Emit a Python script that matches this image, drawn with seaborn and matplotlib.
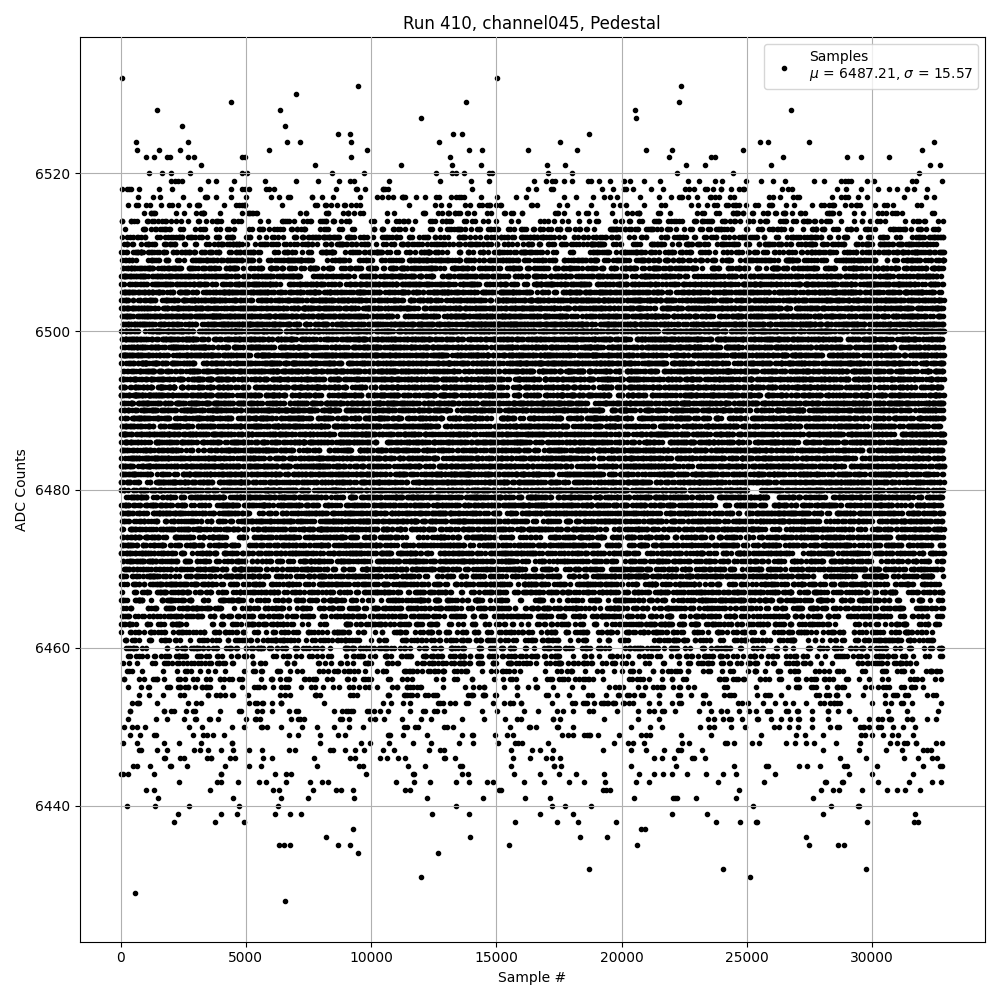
import numpy as np
import matplotlib
matplotlib.use('Agg')
import matplotlib.pyplot as plt
import seaborn as sns

# ADC codes of the dense band and number of samples on each code (read from row density)
band_levels = list(range(6444, 6520))
band_counts = [31, 34, 38, 41, 45, 50, 56, 64, 73, 84,
               98, 111, 126, 143, 190, 212, 235, 258, 282, 306,
               350, 372, 394, 416, 438, 460, 450, 470, 490, 510,
               525, 540, 555, 570, 585, 600, 645, 660, 675, 690,
               650, 660, 670, 680, 690, 700, 710, 720, 730, 740,
               737, 772, 777, 777, 777, 772, 767, 757, 742, 722,
               750, 670, 610, 545, 480, 420, 360, 327, 270, 210,
               165, 125, 95, 75, 60, 50]

# sparse samples above the band, read point by point
high_sample = [40, 4398, 1440, 2440, 628, 640, 2670, 2387, 1520, 1000, 1320, 1830, 1950, 2690, 2935,
               3213, 1120, 1640, 2000, 2760, 4825, 4945, 4840, 5040,
               6357, 6997, 6557, 5917, 6637, 7157, 7757, 8453, 8677, 9170, 9183, 9196, 9477, 9837, 9730,
               11195, 11994, 12713, 13153, 13225, 13273, 13633, 13793, 13913, 14433, 14393, 12594, 13245,
               13393, 13713, 14713, 14833, 15033, 16272, 17032, 17072, 17551, 17751, 18031, 18231, 18711,
               20540, 20560, 20990, 21910, 22030, 22310, 22390, 22230, 22590,
               23348, 23588, 23748, 24443, 24867, 25547, 25867, 25987, 26427, 26747, 27466, 28985, 29545,
               30665, 31864, 31984, 32304, 32464, 32704]
high_adc = [6532, 6529, 6528, 6526, 6524, 6523, 6524, 6523, 6523, 6522, 6522, 6522, 6522, 6522, 6522,
            6521, 6520, 6520, 6520, 6520, 6522, 6522, 6520, 6520,
            6528, 6530, 6526, 6523, 6524, 6524, 6521, 6520, 6525, 6525, 6524, 6522, 6531, 6523, 6520,
            6521, 6527, 6524, 6522, 6521, 6525, 6525, 6529, 6523, 6523, 6521, 6520, 6520,
            6520, 6520, 6520, 6520, 6532, 6523, 6521, 6520, 6524, 6521, 6520, 6523, 6525,
            6528, 6527, 6523, 6522, 6523, 6529, 6531, 6520, 6521,
            6521, 6522, 6522, 6520, 6523, 6524, 6524, 6521, 6522, 6528, 6524, 6522, 6522,
            6522, 6520, 6523, 6521, 6524, 6521]

# sparse samples below the band
low_sample = [2319, 3826, 3986, 4678, 5517, 5797, 6597, 7556, 8036, 8276, 10994, 11714, 12354, 13380,
              13900, 14633, 14873, 16100, 16911, 17911, 18511, 19350, 20566, 21109, 23868, 25707, 28106,
              28146, 28786, 28855, 30225, 31464, 32384, 32744,
              1012, 1319, 3558, 6077, 6305, 7676, 8596, 8796, 9263, 19270, 19390, 19550, 11354, 11554,
              15112, 15192, 24695, 27946, 28426, 28666, 29585, 30585, 30985, 31304, 31904,
              1479, 4478, 6397, 7476, 9315, 12234, 14473, 16125, 17151, 20509, 22069, 22149, 22229,
              22988, 24587, 27626,
              240, 1359, 2719, 4718, 6277, 13405, 17231, 17740, 18790, 25267, 28346, 29425, 29465,
              2279, 3998, 4638, 6157, 6745, 7196, 12434, 13926, 16751, 18043, 22029, 23428, 28026, 31704,
              2119, 3758, 4918, 15752, 17431, 18271, 19790, 23788, 24720, 25387, 25427, 29785, 31664, 31850,
              9288, 20789, 20949,
              8196, 13953, 18351, 19430, 27346,
              6330, 6517, 6770, 8676, 9155, 15512, 20629, 27478, 28626, 28878,
              9475, 12673,
              18710, 24067, 29745,
              12007, 25147,
              560,
              6545]
low_adc = [6443] * 34 + [6442] * 25 + [6441] * 16 + [6440] * 13 + [6439] * 14 + [6438] * 14 + \
          [6437] * 3 + [6436] * 5 + [6435] * 10 + [6434] * 2 + [6432] * 3 + [6431] * 2 + [6429] + [6428]

band_values = np.repeat(band_levels, band_counts)
out_sample = high_sample + low_sample
out_adc = high_adc + low_adc

n_samples = len(band_values) + len(out_sample)
adc = np.zeros(n_samples, dtype=int)
free = np.ones(n_samples, dtype=bool)
free[out_sample] = False
adc[out_sample] = out_adc
slots = np.flatnonzero(free)

# scatter the band codes along the run (deterministic quadratic ordering)
m = len(slots)
k = np.arange(m, dtype=np.int64)
keys = (k * k * np.sqrt(2.0)) % 1.0
adc[slots] = band_values[np.argsort(keys)]
sample = np.arange(n_samples)

fig, ax = plt.subplots(figsize=(10, 10), dpi=100)
sns.scatterplot(x=sample, y=adc, color='k', marker='.', s=36, edgecolor='k', linewidth=1.0,
                label='Samples\n$\\mu$ = 6487.21, $\\sigma$ = 15.57', ax=ax)
ax.grid(True)
ax.set_axisbelow(False)
ax.set_title('Run 410, channel045, Pedestal')
ax.set_xlabel('Sample #')
ax.set_ylabel('ADC Counts')
ax.legend(loc='upper right')
plt.tight_layout()
plt.savefig('out.png')
